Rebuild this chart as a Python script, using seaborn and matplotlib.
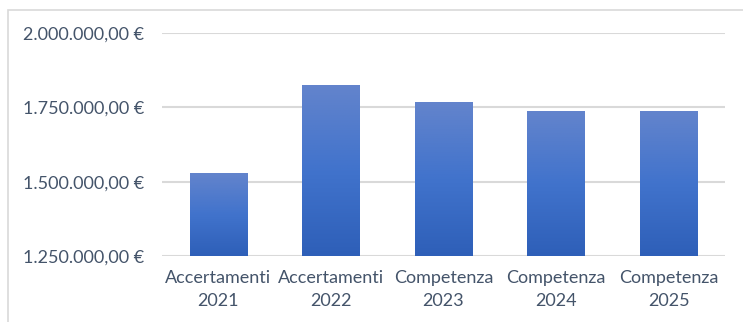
import matplotlib
matplotlib.use("Agg")
import matplotlib.pyplot as plt
import seaborn as sns
import numpy as np
import pandas as pd
from matplotlib.colors import LinearSegmentedColormap
from matplotlib.patches import Rectangle

categories = ["Accertamenti\n2021", "Accertamenti\n2022", "Competenza\n2023",
              "Competenza\n2024", "Competenza\n2025"]
values = [1526000, 1824000, 1767000, 1737000, 1737000]
yticks = [1250000, 1500000, 1750000, 2000000]
ytick_labels = ["1.250.000,00 €", "1.500.000,00 €", "1.750.000,00 €", "2.000.000,00 €"]

sns.set_theme(style="white")
plt.rcParams['font.family'] = ['Lato', 'DejaVu Sans']

fig = plt.figure(figsize=(7.43, 3.22), dpi=100)
ax = fig.add_axes([162/743, 1-256.3/322, (725-162)/743, (256.3-33)/322])

df = pd.DataFrame({"cat": categories, "val": values})
sns.barplot(data=df, x="cat", y="val", ax=ax, color="#4472C4", width=0.51, zorder=3)

cmap = LinearSegmentedColormap.from_list("g", ["#2E5FB8", "#4173CC", "#6384CC"])
grad = np.linspace(0, 1, 256).reshape(-1, 1)
for p in ax.patches:
    x0, w = p.get_x(), p.get_width()
    top = p.get_y() + p.get_height()
    p.set_facecolor("none")
    p.set_edgecolor("none")
    ax.imshow(grad, cmap=cmap, origin="lower", aspect="auto",
              extent=[x0, x0 + w, 1250000, top], zorder=3)
ax.set_aspect("auto")
ax.set_xlim(-0.5, 4.5)
ax.set_ylim(1250000, 2000000)

ax.set_yticks(yticks)
ax.set_yticklabels(ytick_labels)
ax.grid(axis="y", color="#D9D9D9", linewidth=1.5, zorder=0)
ax.set_axisbelow(True)
for s in ax.spines.values():
    s.set_visible(False)
ax.tick_params(axis="both", length=0, colors="#44546A", labelsize=13)
ax.tick_params(axis="y", pad=13)
ax.tick_params(axis="x", pad=10)
for t in ax.get_xticklabels():
    t.set_linespacing(1.55)
ax.set_xlabel("")
ax.set_ylabel("")

fig.patches.append(Rectangle((8/743, -0.1), 1.2, 1 - 10/322 + 0.1, transform=fig.transFigure,
                             fill=False, edgecolor="#D9D9D9", linewidth=1.2))

fig.savefig("out.png", dpi=100)
